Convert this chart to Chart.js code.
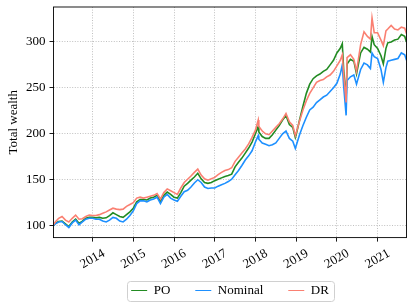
<!DOCTYPE html>
<html>
<head>
<meta charset="utf-8">
<script src="https://cdn.jsdelivr.net/npm/chart.js@4"></script>
<style>
html, body { margin: 0; padding: 0; background: #fff; }
</style>
</head>
<body>
<canvas id="chart" width="415" height="307"></canvas>
<script>
// ================= DATA =================
const dates = [
    "2013-01-15", "2013-02-01", "2013-03-01", "2013-04-01", "2013-05-01", "2013-06-01",
    "2013-07-01", "2013-08-01", "2013-09-01", "2013-10-01", "2013-11-01", "2013-12-01",
    "2014-01-01", "2014-02-01", "2014-03-01", "2014-04-01", "2014-05-01", "2014-06-01",
    "2014-07-01", "2014-08-01", "2014-09-01", "2014-10-01", "2014-11-01", "2014-12-01",
    "2015-01-01", "2015-02-01", "2015-03-01", "2015-04-01", "2015-05-01", "2015-06-01",
    "2015-07-01", "2015-08-01", "2015-09-01", "2015-10-01", "2015-11-01", "2015-12-01",
    "2016-01-01", "2016-02-01", "2016-03-01", "2016-04-01", "2016-05-01", "2016-06-01",
    "2016-07-01", "2016-08-01", "2016-09-01", "2016-10-01", "2016-11-01", "2016-12-01",
    "2017-01-01", "2017-02-01", "2017-03-01", "2017-04-01", "2017-05-01", "2017-06-01",
    "2017-07-01", "2017-08-01", "2017-09-01", "2017-10-01", "2017-11-01", "2017-12-01",
    "2018-01-01", "2018-01-26", "2018-02-01", "2018-03-01", "2018-04-01", "2018-05-01",
    "2018-06-01", "2018-07-01", "2018-08-01", "2018-09-01", "2018-10-01", "2018-11-01",
    "2018-12-01", "2018-12-24", "2019-01-01", "2019-02-01", "2019-03-01", "2019-04-01",
    "2019-05-01", "2019-06-01", "2019-07-01", "2019-08-01", "2019-09-01", "2019-10-01",
    "2019-11-01", "2019-12-01", "2020-01-01", "2020-02-01", "2020-02-19", "2020-03-01",
    "2020-03-23", "2020-04-01", "2020-05-01", "2020-06-01", "2020-06-25", "2020-08-01",
    "2020-09-01", "2020-10-01", "2020-10-28", "2020-11-12", "2020-12-01", "2021-01-01",
    "2021-02-01", "2021-02-22", "2021-03-15", "2021-04-01", "2021-05-01", "2021-06-01",
    "2021-07-01", "2021-08-01", "2021-09-01", "2021-09-17"
];

const poValues = [
    100, 102.5, 104.5, 105, 102, 99, 104, 107, 102.5, 105, 108, 109,
    109, 108.5, 109, 108, 108.5, 111, 114, 112, 110, 109, 112, 115,
    119, 126, 128.5, 128.5, 128, 130, 131, 133, 126.5, 133, 136.5, 134,
    131, 130, 136, 143, 146, 149.5, 153, 157, 151, 147, 146, 147,
    149, 150.5, 152, 153.5, 154.5, 156, 164, 169, 173.5, 179, 184.5, 191,
    200, 208, 202, 197, 195, 195, 199, 204, 209, 215, 220, 210,
    207, 196, 199, 215, 230, 244, 254, 260, 263, 265, 268, 270,
    275, 280, 288, 293, 298, 270, 238, 276, 281, 279, 265, 288,
    294, 292, 289, 306, 297, 293, 285, 276, 293, 299, 300, 302,
    303, 308, 306, 300
];

const nominalValues = [
    100, 102, 104, 104.5, 101, 98, 103, 106, 101, 104, 107, 108,
    108, 107, 107, 105, 104, 106, 109, 108, 105, 104, 107, 111,
    116, 124, 127, 127, 126, 128, 129, 131, 124, 131, 134, 130,
    128, 126.5, 132, 137, 138.5, 142, 146.5, 150, 147, 142, 140.5, 141,
    141, 143, 144.5, 146, 148, 150.5, 155.5, 160, 165.5, 171.5, 176, 181.5,
    191, 198, 194, 190, 188.5, 187, 188, 190, 195, 200, 203, 195,
    192, 184, 187, 199, 209, 218, 226, 229, 234, 237, 240, 242,
    246, 250, 255, 265, 275, 252, 220, 258, 262, 264, 254, 270,
    277, 275, 271, 288, 284, 282, 270, 256, 272, 279, 280, 281,
    282, 288, 286, 280
];

const drValues = [
    101, 104, 108, 110, 106, 104, 108, 111.5, 107, 107.5, 110, 111.5,
    111, 111, 112, 113.5, 115, 117, 119, 118, 117.5, 118, 121, 123,
    125, 130, 131, 130, 131, 132, 133, 135, 129, 136, 140, 138,
    136, 134, 141, 147, 150.5, 154, 158, 161.5, 155, 151, 149.5, 151,
    152.5, 155.5, 158, 160, 161, 163, 170, 174.5, 179, 183.5, 189, 196,
    204, 215, 208, 203, 200, 199, 203, 207, 211, 216, 222, 213,
    209, 198, 201, 214, 226, 236, 244, 250, 256, 258, 259, 262,
    264, 268, 274, 280, 286, 265, 234, 283, 286, 281, 268, 297,
    311, 306, 303, 326, 310, 310, 302, 296, 312, 314, 318, 314,
    313, 316, 315, 309
];

const yearTicks = [2014, 2015, 2016, 2017, 2018, 2019, 2020, 2021];
const wealthTicks = [100, 150, 200, 250, 300];

// ================= HELPERS =================
const FONT = "'Liberation Serif', 'DejaVu Serif', serif";

function toYear(s) {
    const [y, m, d] = s.split("-").map(Number);
    return y + (m - 1) / 12 + (d - 1) / 365;
}

function toPoints(values) {
    return values.map((v, i) => ({ x: toYear(dates[i]), y: v }));
}

// axes frame (all four spines)
const framePlugin = {
    id: "frame",
    afterDatasetsDraw(chart) {
        const { ctx, chartArea: a } = chart;
        ctx.save();
        ctx.strokeStyle = "#000";
        ctx.lineWidth = 0.9;
        ctx.strokeRect(a.left, a.top, a.right - a.left, a.bottom - a.top);
        ctx.restore();
    }
};

// rotated year labels, centred under each tick of the x scale
const yearLabelPlugin = {
    id: "yearLabels",
    afterDraw(chart) {
        const sx = chart.scales.x;
        const ctx = chart.ctx;
        ctx.save();
        ctx.font = "13px " + FONT;
        ctx.fillStyle = "#000";
        ctx.textAlign = "center";
        ctx.textBaseline = "middle";
        yearTicks.forEach(yr => {
            ctx.save();
            ctx.translate(sx.getPixelForValue(yr), sx.top + 21.5);
            ctx.rotate(-Math.PI / 6);
            ctx.fillText(String(yr), 0, 0);
            ctx.restore();
        });
        ctx.restore();
    }
};

// rounded box round the legend
const legendBoxPlugin = {
    id: "legendBox",
    afterDraw(chart) {
        const boxes = chart.legend.legendHitBoxes;
        if (!boxes || !boxes.length) return;
        const left = Math.min(...boxes.map(b => b.left)) - 4;
        const right = Math.max(...boxes.map(b => b.left + b.width)) + 5;
        const cy = boxes[0].top + boxes[0].height / 2;
        const ctx = chart.ctx;
        ctx.save();
        ctx.strokeStyle = "#d0d0d0";
        ctx.lineWidth = 1;
        ctx.beginPath();
        ctx.roundRect(Math.round(left) + 0.5, Math.round(cy - 10) + 0.5, Math.round(right - left), 20, 3);
        ctx.stroke();
        ctx.restore();
    }
};

// ================= CHART =================
Chart.defaults.font.family = FONT;
Chart.defaults.font.size = 13;
Chart.defaults.color = "#000";

const gridOpts = {
    color: "#b0b0b0",
    lineWidth: 0.8,
    tickLength: 4,
    tickColor: "#000",
    tickWidth: 0.9,
    tickBorderDash: []
};

new Chart(document.getElementById("chart"), {
    type: "line",
    data: {
        datasets: [
            { label: "PO", data: toPoints(poValues), borderColor: "#228b22", backgroundColor: "#228b22", order: 3 },
            { label: "Nominal", data: toPoints(nominalValues), borderColor: "#1e90ff", backgroundColor: "#1e90ff", order: 2 },
            { label: "DR", data: toPoints(drValues), borderColor: "#fa8072", backgroundColor: "#fa8072", order: 1 }
        ]
    },
    options: {
        responsive: false,
        animation: false,
        elements: {
            point: { radius: 0 },
            line: { borderWidth: 1.6, tension: 0 }
        },
        layout: { padding: { left: 0, right: 8.5, top: 7, bottom: 0 } },
        scales: {
            x: {
                type: "linear",
                min: 2013.04,
                max: 2021.71,
                afterBuildTicks: s => { s.ticks = yearTicks.map(v => ({ value: v })); },
                afterFit: s => { s.height = 21.4; s.paddingLeft = 0; s.paddingRight = 0; },
                grid: gridOpts,
                border: { display: false, dash: [1, 1.6] },
                ticks: { display: false }
            },
            y: {
                min: 87,
                max: 338,
                afterBuildTicks: s => { s.ticks = wealthTicks.map(v => ({ value: v })); },
                afterFit: s => { s.width = 53.5; s.paddingTop = 0; s.paddingBottom = 0; },
                grid: gridOpts,
                border: { display: false, dash: [1, 1.6] },
                ticks: { padding: 4, callback: v => String(v) },
                title: { display: true, text: "Total wealth", padding: { top: 6, bottom: 0 } }
            }
        },
        plugins: {
            legend: {
                position: "bottom",
                fullSize: false,
                labels: {
                    usePointStyle: true,
                    pointStyle: "line",
                    pointStyleWidth: 16,
                    padding: 25,
                    sort: (a, b) => a.datasetIndex - b.datasetIndex
                }
            },
            tooltip: { enabled: false }
        }
    },
    plugins: [framePlugin, yearLabelPlugin, legendBoxPlugin]
});
</script>
</body>
</html>
